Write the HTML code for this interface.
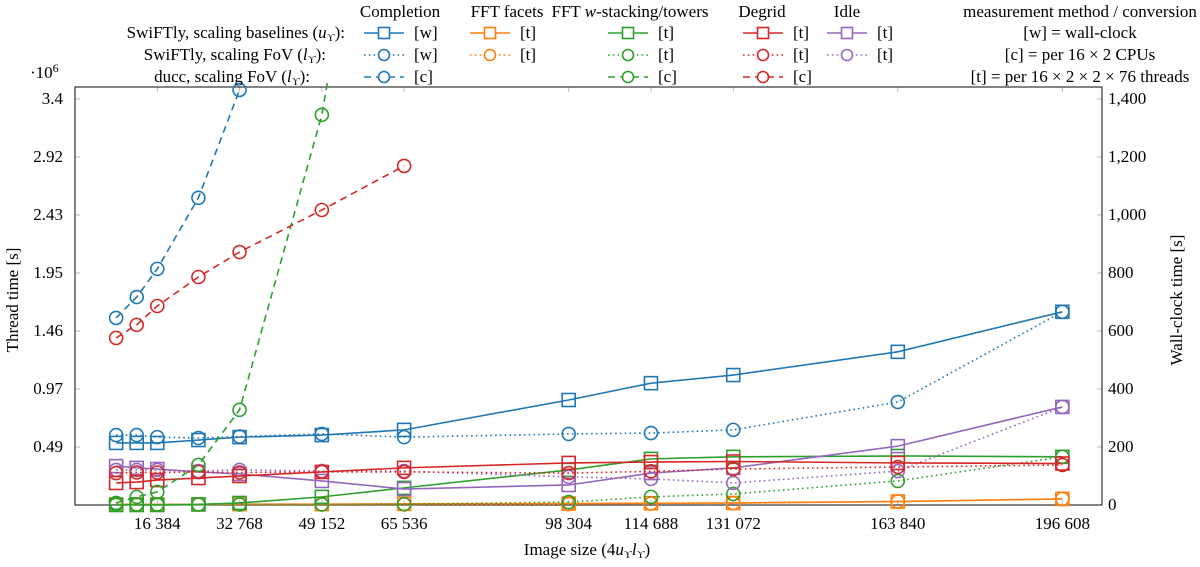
<!DOCTYPE html>
<html><head><meta charset="utf-8">
<style>
body{margin:0;background:#fff;}
svg text{font-family:"Liberation Serif",serif;font-size:17px;fill:#000;}
</style></head>
<body>
<svg id="chart" width="1200" height="562" viewBox="0 0 1200 562" xmlns="http://www.w3.org/2000/svg"></svg>
<script>
const xs = [8192,12288,16384,24576,32768,49152,65536,98304,114688,131072,163840,196608];
const xTicks = [16384,32768,49152,65536,98304,114688,131072,163840,196608];
const xTickLabels = ["16 384","32 768","49 152","65 536","98 304","114 688","131 072","163 840","196 608"];
const rightTicks = [0,200,400,600,800,1000,1200,1400];
const rightTickLabels = ["0","200","400","600","800","1,000","1,200","1,400"];
const leftTickLabels = ["0.49","0.97","1.46","1.95","2.43","2.92","3.4"];
const leftTickVals = [200,400,600,800,1000,1200,1400];

const complW = [214,214,214,224,234,241,259,362,420,448,528,666];
const complFovW = [241,241,234,231,236,245,234,245,248,259,355,666];
const complDucc = [645,717,814,1059,1431];
const facetsT = [2,2,2,2,3,3,4,5,6,7,12,21];
const facetsFovT = [1,1,1,1,2,2,2,3,5,6,12,21];
const wstackT = [0,0,0,2,7,28,59,121,159,166,169,166];
const wstackFovT = [2,2,2,2,2,2,3,10,28,38,83,166];
const wstackDucc = [7,28,45,138,328,1345,3000];
const degridT = [76,79,86,93,100,114,128,145,148,150,145,143];
const degridFovT = [110,112,112,114,112,114,114,110,116,124,131,138];
const degridDucc = [576,621,686,786,872,1017,1169];
const idleT = [134,128,124,114,107,83,55,69,110,128,203,338];
const idleFovT = [121,121,121,117,121,117,117,97,90,76,117,338];

const X0=75, X1=1102, XMAX=204500, Y0=505, YTOP=87, YMAX=1441;
const sx = v => X0 + (X1-X0)*v/XMAX;
const sy = v => Y0 - (Y0-YTOP)*v/YMAX;
const svg = document.getElementById('chart');
const NS='http://www.w3.org/2000/svg';
function mk(tag, attrs, parent){const e=document.createElementNS(NS,tag);for(const k in attrs)e.setAttribute(k,attrs[k]);(parent||svg).appendChild(e);return e;}
function txt(x,y,s,anchor,parent){const t=mk('text',{x:x,y:y,'text-anchor':anchor||'start'},parent);t.innerHTML=s;return t;}

const C={blue:'#1f77b4',orange:'#ff7f0e',green:'#2ca02c',red:'#d62728',purple:'#9467bd'};
const DASH={solid:'',dot:'1.6 3.2',dash:'7 5'};

const defs=mk('defs',{});
const cp=mk('clipPath',{id:'plotclip'},defs);
mk('rect',{x:X0-10,y:YTOP-8,width:X1-X0+20,height:Y0-YTOP+20},cp);

const axes=mk('g',{});


xTicks.forEach((v,i)=>{
  mk('line',{x1:sx(v),x2:sx(v),y1:Y0,y2:Y0-5,stroke:'#bbb'},axes);
  mk('line',{x1:sx(v),x2:sx(v),y1:YTOP,y2:YTOP+5,stroke:'#bbb'},axes);
  const t=txt(sx(v),529,xTickLabels[i],'middle',axes);
  
  
});
leftTickVals.forEach((v,i)=>{
  mk('line',{x1:X0,x2:X0+5,y1:sy(v),y2:sy(v),stroke:'#bbb'},axes);
  mk('line',{x1:X1,x2:X1-5,y1:sy(v),y2:sy(v),stroke:'#bbb'},axes);
  const t=txt(63,sy(v)+5,leftTickLabels[i],'end',axes);
  
  
});
rightTicks.forEach((v,i)=>{
  const t=txt(1108,sy(v)+5,rightTickLabels[i],'start',axes);
  
  
});
mk('rect',{x:X0,y:YTOP,width:X1-X0,height:Y0-YTOP,fill:'none',stroke:'#333','stroke-width':1.2},axes);
txt(30,78,'·10<tspan dy="-6" font-size="12">6</tspan>','start',axes);
const yt=txt(0,0,'Thread time [s]','middle',axes);
yt.setAttribute('transform','translate(18,300) rotate(-90)');

const yr=txt(0,0,'Wall-clock time [s]','middle',axes);
yr.setAttribute('transform','translate(1182,300) rotate(-90)');

const xt=txt(587,555,'Image size (4<tspan font-style="italic">u</tspan><tspan font-size="11" dy="3">ϒ</tspan><tspan dy="-3" font-style="italic">l</tspan><tspan font-size="11" dy="3">ϒ</tspan><tspan dy="-3">)</tspan>','middle',axes);


function marker(g,x,y,type,color){
  if(type==='sq') return mk('rect',{x:x-6.5,y:y-6.5,width:13,height:13,fill:'none',stroke:color,'stroke-width':1.6},g);
  return mk('circle',{cx:x,cy:y,r:6.5,fill:'none',stroke:color,'stroke-width':1.6},g);
}
function series(name,vals,color,style,mtype){
  const g=mk('g',{'clip-path':'url(#plotclip)'});
  
  
  const pts=vals.map((v,i)=>sx(xs[i])+','+sy(v)).join(' ');
  mk('polyline',{points:pts,fill:'none',stroke:color,'stroke-width':1.6,'stroke-dasharray':DASH[style]},g);
  vals.forEach((v,i)=>{
    const m=marker(g,sx(xs[i]),sy(v),mtype,color);
    
    
  });
}
series('facets-fov',facetsFovT,C.orange,'dot','ci');
series('facets',facetsT,C.orange,'solid','sq');
series('wstack-fov',wstackFovT,C.green,'dot','ci');
series('wstack',wstackT,C.green,'solid','sq');
series('idle-fov',idleFovT,C.purple,'dot','ci');
series('idle',idleT,C.purple,'solid','sq');
series('degrid-fov',degridFovT,C.red,'dot','ci');
series('degrid',degridT,C.red,'solid','sq');
series('completion-fov',complFovW,C.blue,'dot','ci');
series('completion',complW,C.blue,'solid','sq');
series('wstack-ducc',wstackDucc,C.green,'dash','ci');
series('degrid-ducc',degridDucc,C.red,'dash','ci');
series('completion-ducc',complDucc,C.blue,'dash','ci');

const lg=mk('g',{});


const rows=[33,55,77];
txt(345,rows[0]+5,'SwiFTly, scaling baselines (<tspan font-style="italic">u</tspan><tspan font-size="11" dy="3">ϒ</tspan><tspan dy="-3">):</tspan>','end',lg);
txt(326,rows[1]+5,'SwiFTly, scaling FoV (<tspan font-style="italic">l</tspan><tspan font-size="11" dy="3">ϒ</tspan><tspan dy="-3">):</tspan>','end',lg);
txt(310,rows[2]+5,'ducc, scaling FoV (<tspan font-style="italic">l</tspan><tspan font-size="11" dy="3">ϒ</tspan><tspan dy="-3">):</tspan>','end',lg);
const cols=[
 {h:'Completion',hx:400,c:C.blue,x:384,l:['[w]','[w]','[c]']},
 {h:'FFT facets',hx:507,c:C.orange,x:490,l:['[t]','[t]',null]},
 {h:'FFT <tspan font-style="italic">w</tspan>-stacking/towers',hx:630,c:C.green,x:628,l:['[t]','[t]','[c]']},
 {h:'Degrid',hx:762,c:C.red,x:763,l:['[t]','[t]','[c]']},
 {h:'Idle',hx:847,c:C.purple,x:847,l:['[t]','[t]',null]}
];
const styles=['solid','dot','dash'], mts=['sq','ci','ci'];
cols.forEach(col=>{
  const h=txt(col.hx,17,col.h,'middle',lg);
  
  col.l.forEach((lab,r)=>{
    if(!lab) return;
    const y=rows[r];
    const e=mk('g',{},lg);
    
    
    mk('line',{x1:col.x-20,x2:col.x+20,y1:y,y2:y,stroke:col.c,'stroke-width':1.6,'stroke-dasharray':DASH[styles[r]]},e);
    if(mts[r]==='sq') mk('rect',{x:col.x-5.5,y:y-5.5,width:11,height:11,fill:'#fff',stroke:col.c,'stroke-width':1.6},e);
    else mk('circle',{cx:col.x,cy:y,r:5.5,fill:'#fff',stroke:col.c,'stroke-width':1.6},e);
    txt(col.x+30,y+5,lab,'start',e);
  });
});
txt(1080,17,'measurement method / conversion','middle',lg);
txt(1080,rows[0]+5,'[w] = wall-clock','middle',lg);
txt(1080,rows[1]+5,'[c] = per 16 × 2 CPUs','middle',lg);
txt(1080,rows[2]+5,'[t] = per 16 × 2 × 2 × 76 threads','middle',lg);
</script>
</body></html>
